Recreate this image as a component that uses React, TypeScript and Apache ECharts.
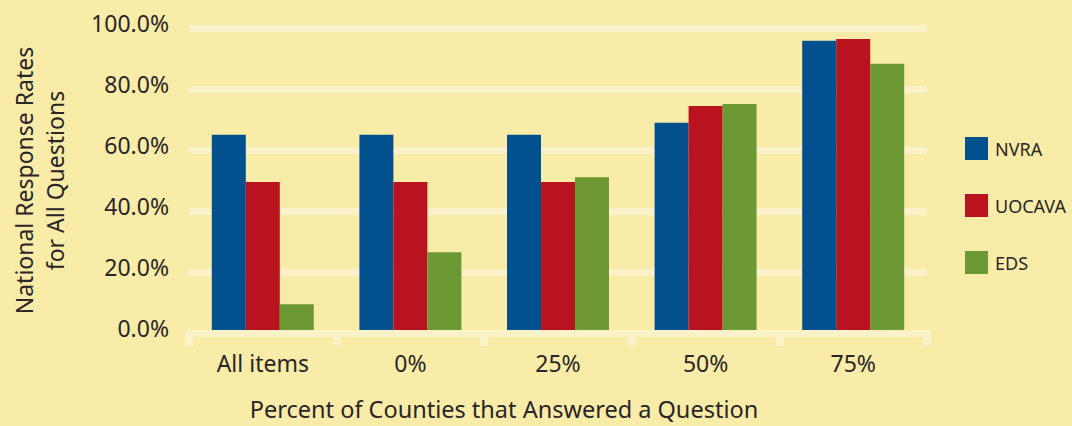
import React, { useEffect, useRef } from "react";
import * as echarts from "echarts";

const categories = ["All items", "0%", "25%", "50%", "75%"];
const nvra = [65.0, 65.0, 65.0, 68.9, 95.8];
const uocava = [49.5, 49.5, 49.5, 74.4, 96.4];
const eds = [9.4, 26.5, 51.1, 75.1, 88.3];
const seriesNames = ["NVRA", "UOCAVA", "EDS"];
const yTicks = [0, 20, 40, 60, 80, 100];

const FONT = "'Noto Sans', 'Open Sans', sans-serif";
const TEXT = "#2a2526";
const BG = "#f9eca8";
const GRID = "#fcf2c9";
const COLORS = ["#03508f", "#b8131e", "#6c9933"];

export default function App() {
  const ref = useRef<HTMLDivElement>(null);
  useEffect(() => {
    if (!ref.current) return;
    const chart = echarts.init(ref.current, null, { renderer: "svg" });
    const data = [nvra, uocava, eds];
    chart.setOption({
      animation: false,
      backgroundColor: BG,
      textStyle: { fontFamily: FONT },
      grid: { left: 180, right: 145, top: 28, bottom: 89, containLabel: false },
      legend: {
        orient: "vertical",
        left: 965,
        top: 137,
        padding: 0,
        itemWidth: 23,
        itemHeight: 23,
        itemGap: 34,
        icon: "rect",
        data: seriesNames,
        textStyle: { fontFamily: FONT, fontSize: 18, color: TEXT, padding: [0, 0, 0, 2] },
      },
      xAxis: {
        type: "category",
        data: categories,
        z: 5,
        boundaryGap: true,
        axisLine: { show: true, lineStyle: { color: GRID, width: 7 } },
        axisTick: { show: true, length: 13, lineStyle: { color: GRID, width: 8 } },
        axisLabel: { fontFamily: FONT, fontSize: 23, color: TEXT, margin: 18 },
        name: "Percent of Counties that Answered a Question",
        nameLocation: "middle",
        nameGap: 64,
        nameTextStyle: { fontFamily: FONT, fontSize: 23.5, color: TEXT, padding: [0, 108, 0, 0] },
      },
      yAxis: {
        type: "value",
        min: yTicks[0],
        max: yTicks[yTicks.length - 1],
        interval: 20,
        axisLine: { show: false },
        axisTick: { show: false },
        splitLine: { show: true, lineStyle: { color: GRID, width: 7 } },
        axisLabel: {
          fontFamily: FONT,
          fontSize: 23,
          color: TEXT,
          margin: 20,
          verticalAlign: "bottom",
          lineHeight: 10,
          formatter: (v: number) => `${v.toFixed(1)}%`,
        },
        name: "National Response Rates\nfor All Questions",
        nameLocation: "middle",
        nameRotate: 90,
        nameGap: 119,
        nameTextStyle: { fontFamily: FONT, fontSize: 23, color: TEXT, lineHeight: 31, align: "center" },
      },
      series: seriesNames.map((name, i) => ({
        name,
        type: "bar",
        data: data[i],
        barWidth: 34,
        barGap: "0%",
        itemStyle: { color: COLORS[i] },
      })),
    });
    return () => chart.dispose();
  }, []);
  return (
    <div
      ref={ref}
      style={{ position: "absolute", left: 0, top: 0, width: 1072, height: 426 }}
    />
  );
}
